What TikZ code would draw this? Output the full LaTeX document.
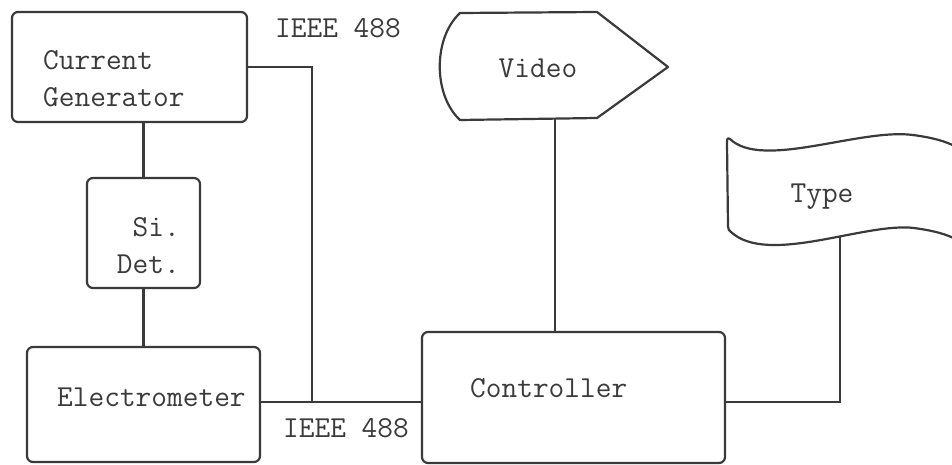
\documentclass[tikz,border=0pt]{standalone}
\usepackage{fontspec}
\usepackage{tikz}
\usetikzlibrary{calc}
\definecolor{ink}{HTML}{3A3A3A}

\begin{document}
\begin{tikzpicture}[
  x=1pt,y=-1pt,
  every node/.style={font=\ttfamily\fontsize{30.5}{37}\selectfont,text=ink},
  box/.style={draw=ink,line width=2.2pt,rounded corners=6pt,inner sep=0pt},
  lbl/.style={inner sep=0pt,align=left},
  wire/.style={draw=ink,line width=2.2pt}
]
\clip (0,0) rectangle (952,465);
% boxes
\node[box,minimum width=235pt,minimum height=110pt] (cg) at (129.5,67) {};
\node[box,minimum width=113pt,minimum height=110pt] (sidet) at (143.5,233) {};
\node[box,minimum width=233pt,minimum height=115pt] (elec) at (143.5,404.5) {};
\node[box,minimum width=303pt,minimum height=131pt] (ctrl) at (573.5,397.5) {};
% texts
\node[lbl,anchor=west] (cgtxt) at (43,78.5) {Current\\Generator};
\node[lbl,anchor=east,align=right] (sdtxt) at (180,246) {Si.\\Det.};
\node[lbl,anchor=west] (eltxt) at (57,397) {Electrometer};
\node[lbl,anchor=west] (cttxt) at (470,388) {Controller};
\node[lbl] (video) at (538,68) {Video};
\node[lbl] (type) at (822,197) {Type};
\node[lbl,anchor=west] (ieeetop) at (275,28) {IEEE 488};
\node[lbl,anchor=west] (ieeebot) at (283,428) {IEEE 488};
% display and printer outlines
\draw[wire,line join=round] (460,120) .. controls (433,95) and (433,38) .. (460,13)
  -- (597,12) -- (668,67) -- (597,118) -- cycle;
\draw[wire,line join=round] (965,152) .. controls (950,142) and (935,138) .. (913,135)
  .. controls (860,128) and (762,170) .. (730,139)
  .. controls (727,137) and (727,140) .. (727,143) -- (728,226)
  .. controls (728,229) and (729,231) .. (731,232)
  .. controls (768,266) and (865,222) .. (914,228)
  .. controls (936,231) and (951,235) .. (966,245);
% connections
\coordinate (bus) at (312,402);
\coordinate (videobot) at (555,119);
\coordinate (typebot) at (840,237);
\draw[wire] (cg.east) -| (bus);
\draw[wire] (elec.east |- bus) -- (ctrl.west |- bus);
\draw[wire] (sidet.north) -- (sidet.north |- cg.south);
\draw[wire] (sidet.south) -- (sidet.south |- elec.north);
\draw[wire] (videobot) -- (videobot |- ctrl.north);
\draw[wire] (typebot) |- (ctrl.east |- bus);
\end{tikzpicture}
\end{document}
